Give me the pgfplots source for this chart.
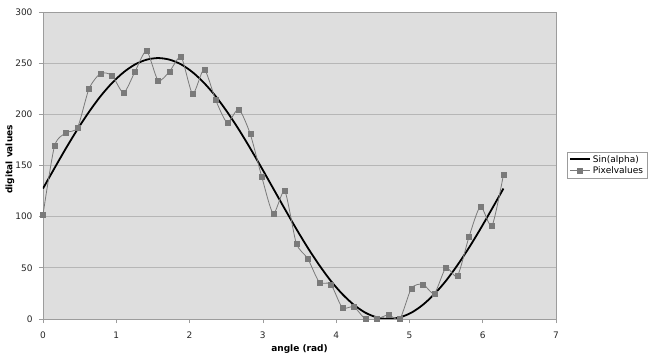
\documentclass[border=0pt]{standalone}
\usepackage{fontspec}
\setmainfont{DejaVu Sans}
\usepackage{pgfplots}
\pgfplotsset{compat=1.18}
\definecolor{bgGray}{HTML}{DEDEDE}
\definecolor{gridGray}{HTML}{B6B6B6}
\definecolor{axisGray}{HTML}{9C9C9C}
\definecolor{pixGray}{HTML}{7A7A7A}
\begin{document}
\begin{tikzpicture}
\begin{axis}[
  scale only axis,
  width=513bp, height=307bp,
  xmin=0, xmax=7, ymin=0, ymax=300,
  xtick={0,1,...,7}, ytick={0,50,...,300},
  axis background/.style={fill=bgGray},
  axis line style={axisGray, line width=0.8bp},
  ymajorgrids, grid style={gridGray, line width=0.7bp},
  tick pos=left, tick align=outside, major tick length=4bp,
  tick style={axisGray, line width=0.7bp},
  /pgf/number format/assume math mode=true,
  ticklabel style={font=\fontsize{9bp}{11bp}\selectfont, text=black!85},
  xticklabel style={yshift=-5bp},
  yticklabel style={xshift=-3bp},
  xlabel={\bfseries angle (rad)},
  ylabel={\bfseries digital values},
  label style={font=\fontsize{9bp}{11bp}\selectfont},
  xlabel style={at={(axis description cs:0.5,-0.0977)}, anchor=center},
  ylabel style={at={(axis description cs:-0.0643,0.52)}, anchor=center},
  legend style={at={(1.0214,0.5016)}, anchor=west, draw=axisGray, fill=white,
    font=\fontsize{9bp}{11bp}\selectfont, inner xsep=2bp, inner ysep=1bp,
    row sep=-1bp, cells={anchor=west}},
  legend image code/.code={\draw[mark repeat=2,mark phase=2,#1] plot coordinates {(0bp,0bp) (10bp,0bp) (20bp,0bp)};},
]
\addplot[black, line width=1.8bp, smooth] coordinates {
(0.000,127.5) (0.157,147.4) (0.314,166.9) (0.471,185.4) (0.628,202.4)
(0.785,217.7) (0.942,230.6) (1.100,241.1) (1.257,248.8) (1.414,253.4)
(1.571,255.0) (1.728,253.4) (1.885,248.8) (2.042,241.1) (2.199,230.6)
(2.356,217.7) (2.513,202.4) (2.670,185.4) (2.827,166.9) (2.985,147.4)
(3.142,127.5) (3.299,107.6) (3.456,88.1) (3.613,69.6) (3.770,52.6)
(3.927,37.3) (4.084,24.4) (4.241,13.9) (4.398,6.2) (4.555,1.6)
(4.712,0.0) (4.869,1.6) (5.027,6.2) (5.184,13.9) (5.341,24.4)
(5.498,37.3) (5.655,52.6) (5.812,69.6) (5.969,88.1) (6.126,107.6)
(6.283,127.5)};
\addlegendentry{Sin(alpha)}
\addplot[pixGray, line width=0.8bp, smooth, tension=0.4, mark=square*, mark size=2.5bp, mark options={fill=pixGray, draw=pixGray, line width=0.3bp}] coordinates {
(0.000,102) (0.157,169) (0.314,182) (0.471,187) (0.628,225)
(0.785,240) (0.942,238) (1.100,221) (1.257,242) (1.414,262)
(1.571,233) (1.728,242) (1.885,256) (2.042,220) (2.199,244)
(2.356,214) (2.513,192) (2.670,205) (2.827,181) (2.985,139)
(3.142,103) (3.299,125) (3.456,74) (3.613,59) (3.770,36)
(3.927,34) (4.084,11) (4.241,12) (4.398,0) (4.555,0)
(4.712,4) (4.869,0) (5.027,30) (5.184,34) (5.341,25)
(5.498,50) (5.655,42) (5.812,80) (5.969,110) (6.126,91)
(6.283,141)};
\addlegendentry{Pixelvalues}
\end{axis}
\pgfresetboundingbox
\path[use as bounding box] (-43bp,-38bp) rectangle (606bp,319bp);
\end{tikzpicture}
\end{document}
